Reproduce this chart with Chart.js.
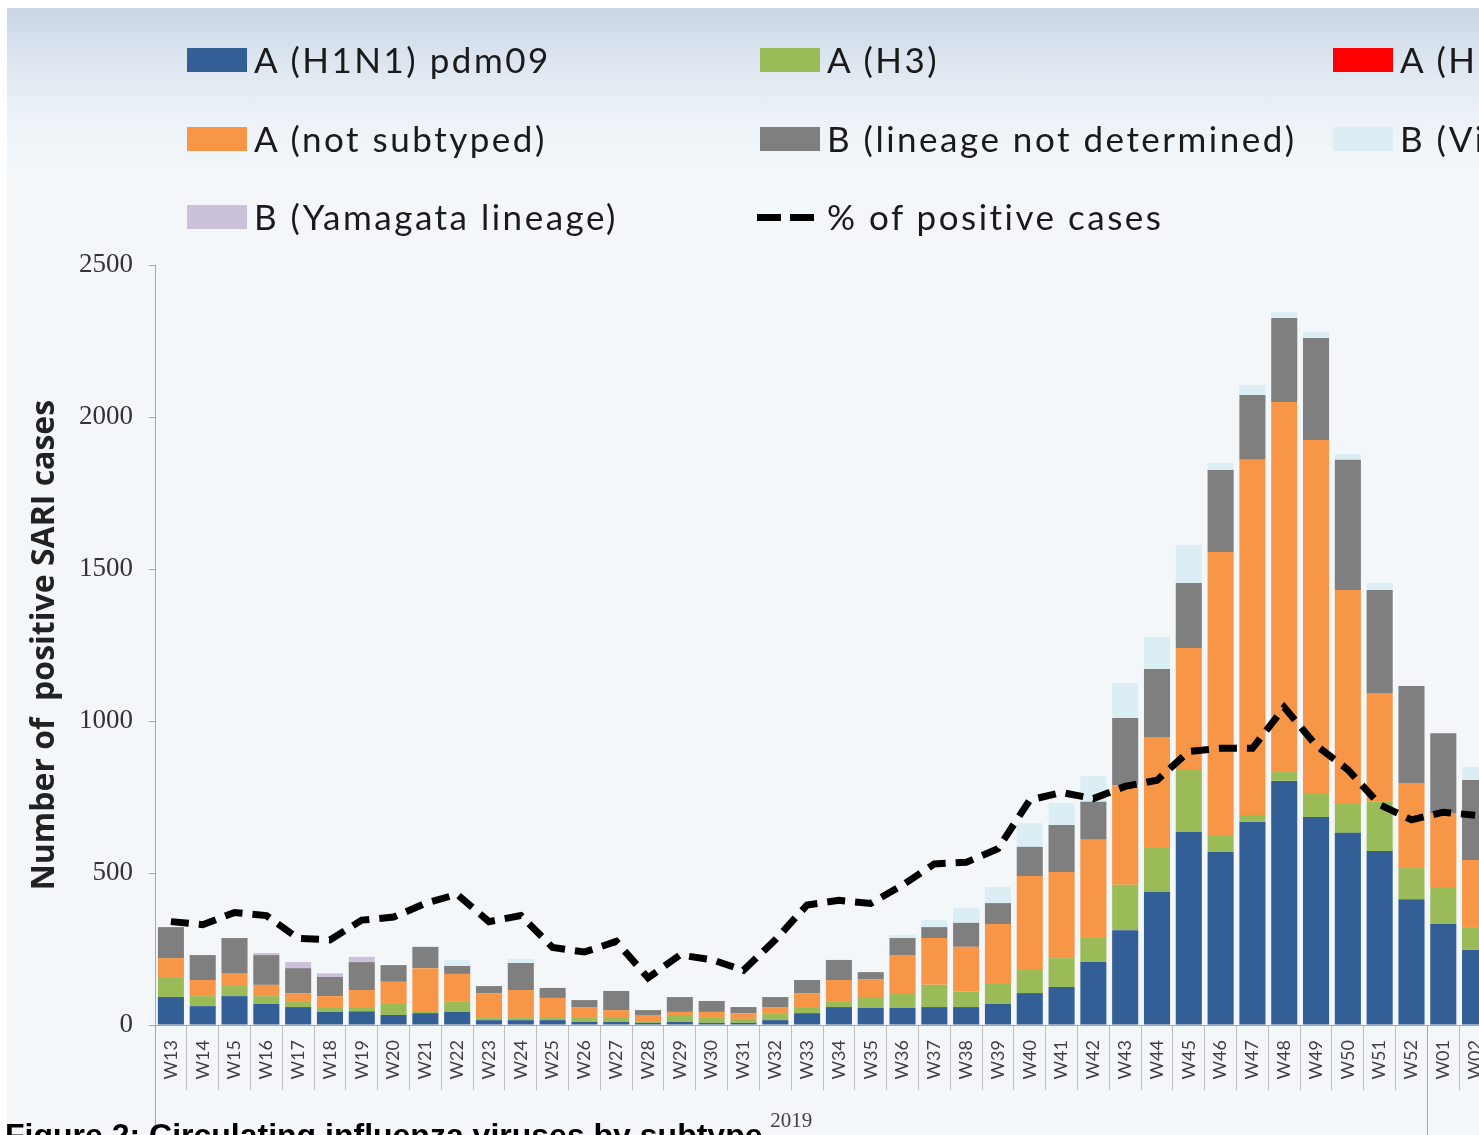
<!DOCTYPE html>
<html>
<head>
<meta charset="utf-8">
<script src="https://cdn.jsdelivr.net/npm/chart.js@4"></script>
<style>
  body { margin: 0; width: 1479px; height: 1135px; overflow: hidden; background: #fff; position: relative; font-family: Lato, sans-serif; }
  #bg { position: absolute; left: 7px; top: 8px; width: 1472px; height: 1127px;
        background: linear-gradient(to bottom, #c9d6e5 0px, #dce5ef 50px, #ecf2f7 110px, #f3f7fa 170px, #f4f7fa 100%); }
  #wrap { position: absolute; left: 0; top: 0; width: 1530px; height: 1135px; }
  .lg { position: absolute; font-size: 35px; letter-spacing: 2.5px; color: #1a1a1a; white-space: nowrap; line-height: 40px; }
  .sw { position: absolute; width: 60px; height: 24px; }
  .dash { position: absolute; width: 58px; height: 7px;
          background: repeating-linear-gradient(to right, #000 0 24px, transparent 24px 33px); }
  #caption { position: absolute; left: 5px; top: 1117px; font: bold 32px "Liberation Sans", Arial, sans-serif; white-space: nowrap; color: #000; }
</style>
</head>
<body>
<div id="bg"></div>
<div id="wrap"><canvas id="chart" width="1530" height="1135"></canvas></div>
<div id="legend"></div>
<div id="caption">Figure 2: Circulating influenza viruses by subtype</div>
<script>
const weeks = ['W13','W14','W15','W16','W17','W18','W19','W20','W21','W22',
               'W23','W24','W25','W26','W27','W28','W29','W30','W31','W32',
               'W33','W34','W35','W36','W37','W38','W39','W40','W41','W42',
               'W43','W44','W45','W46','W47','W48','W49','W50','W51','W52',
               'W01','W02'];

const h1n1 = [92,62,95,69,59,43,45,33,39,43, 16,16,16,10,10,7,10,7,7,16,
              39,59,56,56,59,59,69,105,125,207, 312,438,635,569,668,803,684,632,572,414, 332,247];
const h3 = [66,33,33,26,17,16,11,39,4,33, 10,10,7,16,13,3,23,19,13,23,
            17,17,36,46,73,50,69,76,95,82, 149,144,204,56,23,29,79,95,162,102, 122,75];
const h5 = [0,0,0,0,0,0,0,0,0,0, 0,0,0,0,0,0,0,0,0,0,
            0,0,0,0,0,0,0,0,0,0, 0,0,0,0,0,0,0,0,0,0, 0,0];
const notSubtyped = [62,53,43,37,29,36,59,70,144,92, 79,89,66,33,26,23,10,17,19,20,
                     49,72,59,128,154,148,194,309,283,320, 328,365,401,931,1168,1217,1161,704,358,280, 243,221];
const bNotDetermined = [102,82,115,98,82,63,92,55,70,26, 23,89,33,23,63,16,49,36,20,33,
                        43,66,23,56,36,79,69,96,155,125, 221,224,214,270,213,277,336,428,339,319, 263,263];
const bVictoria = [0,0,0,0,0,0,0,0,0,20, 0,13,0,0,0,0,0,0,0,0,
                   0,0,0,10,23,49,53,78,72,85, 115,105,125,23,33,19,20,19,23,0, 0,43];
const bYamagata = [0,0,0,7,20,12,17,0,0,0, 0,0,0,0,0,0,0,0,0,0,
                   0,0,0,0,0,0,0,0,0,0, 0,0,0,0,0,0,0,0,0,0, 0,0];
const pctPositive = [6.8,6.6,7.4,7.2,5.7,5.6,6.9,7.1,8.0,8.6, 6.8,7.2,5.1,4.8,5.5,3.1,4.6,4.3,3.6,5.6,
                     7.9,8.2,8.0,9.2,10.6,10.7,11.6,14.8,15.3,14.9, 15.7,16.1,18.0,18.2,18.2,20.9,18.4,16.8,14.5,13.5, 14.0,13.8];

const yTicks = [0, 500, 1000, 1500, 2000, 2500];
const yearGroups = [{ name: '2019', first: 'W13', last: 'W52' }];

function bar(label, data, color) {
  return { type: 'bar', label: label, data: data, backgroundColor: color, yAxisID: 'y', order: 1,
           barPercentage: 0.82, categoryPercentage: 1 };
}

const datasets = [
  bar('A (H1N1) pdm09', h1n1, '#335f96'),
  bar('A (H3)', h3, '#9bbb59'),
  bar('A (H5)', h5, '#ff0000'),
  bar('A (not subtyped)', notSubtyped, '#f79646'),
  bar('B (lineage not determined)', bNotDetermined, '#7f7f7f'),
  bar('B (Victoria lineage)', bVictoria, '#dbeef4'),
  bar('B (Yamagata lineage)', bYamagata, '#ccc1da'),
  { type: 'line', label: '% of positive cases', data: pctPositive, yAxisID: 'y1', order: 0,
    borderColor: '#000', borderWidth: 7, borderDash: [18, 10], pointRadius: 0, tension: 0, fill: false }
];

// year labels and separators under the week axis
const yearPlugin = {
  id: 'years',
  afterDraw(chart) {
    const ctx = chart.ctx, x = chart.scales.x, ca = chart.chartArea, h = chart.height;
    ctx.save();
    ctx.strokeStyle = '#a6a6a6';
    ctx.lineWidth = 1;
    ctx.beginPath();
    ctx.moveTo(ca.left + 0.5, ca.bottom);
    ctx.lineTo(ca.left + 0.5, h);
    yearGroups.forEach(g => {
      const i0 = weeks.indexOf(g.first), i1 = weeks.indexOf(g.last);
      const half = (x.getPixelForValue(1) - x.getPixelForValue(0)) / 2;
      const sx = Math.round(x.getPixelForValue(i1) + half) + 0.5;
      ctx.moveTo(sx, ca.bottom);
      ctx.lineTo(sx, h);
      const cx = (x.getPixelForValue(i0) + x.getPixelForValue(i1)) / 2;
      ctx.fillStyle = '#404040';
      ctx.font = '21px "Liberation Serif"';
      ctx.textAlign = 'center';
      ctx.textBaseline = 'middle';
      ctx.fillText(g.name, cx, ca.bottom + 96);
    });
    ctx.stroke();
    ctx.restore();
  }
};

const chart = new Chart(document.getElementById('chart').getContext('2d'), {
  data: { labels: weeks, datasets: datasets },
  options: {
    responsive: false,
    animation: false,
    layout: { padding: { top: 265, right: 39, bottom: 0, left: 0 } },
    plugins: { legend: { display: false }, tooltip: { enabled: false } },
    scales: {
      x: {
        stacked: true,
        ticks: { minRotation: 90, maxRotation: 90, autoSkip: false, padding: -50,
                 font: { family: 'Lato', size: 18 }, color: '#404040' },
        grid: { drawOnChartArea: false, offset: true, tickLength: 65, color: '#bdbdbd' },
        border: { color: '#a6a6a6' },
        afterFit: s => { s.height = 110; }
      },
      y: {
        stacked: true, min: 0, max: 2500,
        afterBuildTicks: s => { s.ticks = yTicks.map(v => ({ value: v })); },
        ticks: { padding: 16, font: { family: 'Liberation Serif', size: 27 }, color: '#333',
                 callback: v => String(v) },
        grid: { drawOnChartArea: false, tickLength: 6, color: '#a6a6a6' },
        border: { color: '#a6a6a6' },
        title: { display: true, text: 'Number of  positive SARI cases', color: '#222',
                 font: { family: 'Open Sans', size: 32, weight: 'bold' }, padding: { top: 26, bottom: 0 } },
        afterFit: s => { s.width = 155; }
      },
      y1: { display: false, min: 0, max: 50 }
    }
  },
  plugins: [yearPlugin]
});

// legend laid out in three columns like the original
const colX = [187, 760, 1333];
const rowY = [60, 139, 217];
const legend = document.getElementById('legend');
datasets.forEach((d, i) => {
  const cx = colX[i % 3], cy = rowY[Math.floor(i / 3)];
  let mark;
  if (d.type === 'line') {
    mark = document.createElement('div');
    mark.className = 'dash';
    mark.style.left = (cx - 3) + 'px';
    mark.style.top = (cy - 3) + 'px';
  } else {
    mark = document.createElement('div');
    mark.className = 'sw';
    mark.style.background = d.backgroundColor;
    mark.style.left = cx + 'px';
    mark.style.top = (cy - 12) + 'px';
  }
  legend.appendChild(mark);
  const t = document.createElement('div');
  t.className = 'lg';
  t.textContent = d.label;
  t.style.left = (cx + 67) + 'px';
  t.style.top = (cy - 21) + 'px';
  legend.appendChild(t);
});
</script>
</body>
</html>
